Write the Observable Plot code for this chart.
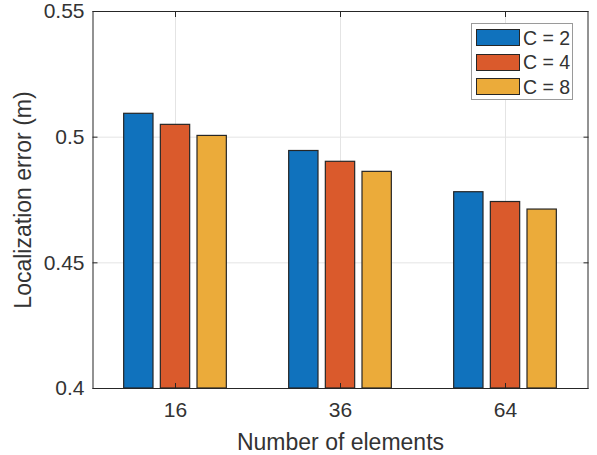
<!DOCTYPE html>
<html>
<head>
<meta charset="utf-8">
<script src="https://cdn.jsdelivr.net/npm/d3@7"></script>
<script src="https://cdn.jsdelivr.net/npm/@observablehq/plot@0.6"></script>
<style>
  html, body { margin: 0; padding: 0; background: #fff; }
  #wrap { position: relative; width: 597px; height: 455px; font-family: "Liberation Sans", Arial, Helvetica, sans-serif; }
  #legend { position: absolute; left: 471px; top: 23px; width: 102px; height: 77px; border: 1px solid #9a9a9a; background: #fff; box-sizing: border-box; }
  .item { position: absolute; left: 4px; height: 18px; display: flex; align-items: center; }
  .sw { width: 44px; height: 17px; border: 1px solid #262626; box-sizing: border-box; margin-right: 3px; }
  .lb { font-size: 19.5px; color: #333; line-height: 18px; white-space: nowrap; }
</style>
</head>
<body>
<div id="wrap"></div>
<script>
// ---- data ----
const categories = ["16", "36", "64"];
const seriesNames = ["C = 2", "C = 4", "C = 8"];
const c2 = [0.5093, 0.4945, 0.4781];
const c4 = [0.5049, 0.4902, 0.4742];
const c8 = [0.5005, 0.4862, 0.4712];
const yTicks = [0.4, 0.45, 0.5, 0.55];
const colors = ["#1072BD", "#DA5A2C", "#EBAB3A"];

const seriesValues = [c2, c4, c8];
const rows = [];
categories.forEach((cat, i) => {
  seriesNames.forEach((s, j) => {
    rows.push({cat, i, s, j, value: seriesValues[j][i]});
  });
});

// MATLAB grouped-bar layout (in category units)
const slot = 2 / 9;          // group width 2/3 split in 3
const half = 0.8 * slot / 2; // bar half-width
const pos = (d) => d.i + 1 + (d.j - 1) * slot;
const xTicks = categories.map((_, i) => i + 1);
const fmtX = (v) => categories[v - 1];

const axisColor = "#262626";
const gridColor = "#e4e4e4";

const chart = Plot.plot({
  width: 597,
  height: 455,
  marginLeft: 92.5,
  marginRight: 9.5,
  marginTop: 11,
  marginBottom: 67,
  style: {fontFamily: "'Liberation Sans', Arial, Helvetica, sans-serif", background: "#fff", color: "#333"},
  x: {domain: [0.5, 3.5]},
  y: {domain: [0.4, 0.55]},
  color: {domain: seriesNames, range: colors},
  marks: [
    Plot.ruleY(yTicks, {stroke: gridColor, strokeWidth: 1}),
    Plot.ruleX(xTicks, {stroke: gridColor, strokeWidth: 1}),
    Plot.rectY(rows, {
      x1: (d) => pos(d) - half,
      x2: (d) => pos(d) + half,
      y1: 0.4,
      y2: "value",
      fill: "s",
      stroke: axisColor,
      strokeWidth: 1.2
    }),
    // inward ticks
    Plot.axisY(yTicks, {anchor: "left", tickSize: 5, dx: 5, fill: "none", stroke: axisColor, label: null}),
    Plot.axisY(yTicks, {anchor: "right", tickSize: 5, dx: -5, fill: "none", stroke: axisColor, label: null}),
    Plot.axisX(xTicks, {anchor: "bottom", tickSize: 5, dy: -5, fill: "none", stroke: axisColor, label: null}),
    Plot.axisX(xTicks, {anchor: "top", tickSize: 5, dy: 5, fill: "none", stroke: axisColor, label: null}),
    // labels
    Plot.axisY(yTicks, {
      anchor: "left", tickSize: 0, tickPadding: 8.5, fontSize: 21, fill: "#333",
      tickFormat: (v) => String(v),
      label: "Localization error (m)", labelAnchor: "center", labelArrow: "none", labelOffset: 78
    }),
    Plot.axisX(xTicks, {
      anchor: "bottom", tickSize: 0, tickPadding: 14, fontSize: 21, fill: "#333",
      tickFormat: fmtX,
      label: "Number of elements", labelAnchor: "center", labelArrow: "none", labelOffset: 61
    }),
    Plot.frame({stroke: axisColor, strokeWidth: 1})
  ]
});

// label font size
chart.querySelectorAll("g[aria-label='y-axis label'] text, g[aria-label='x-axis label'] text").forEach(t => t.setAttribute("font-size", 23));

const wrap = document.getElementById("wrap");
wrap.appendChild(chart);

// legend overlay inside axes (MATLAB northeast)
const legend = document.createElement("div");
legend.id = "legend";
seriesNames.forEach((s, j) => {
  const it = document.createElement("div");
  it.className = "item";
  it.style.top = (4.5 + j * 24.5) + "px";
  const sw = document.createElement("div");
  sw.className = "sw";
  sw.style.background = colors[j];
  const lb = document.createElement("span");
  lb.className = "lb";
  lb.textContent = s;
  it.appendChild(sw);
  it.appendChild(lb);
  legend.appendChild(it);
});
wrap.appendChild(legend);
</script>
</body>
</html>
